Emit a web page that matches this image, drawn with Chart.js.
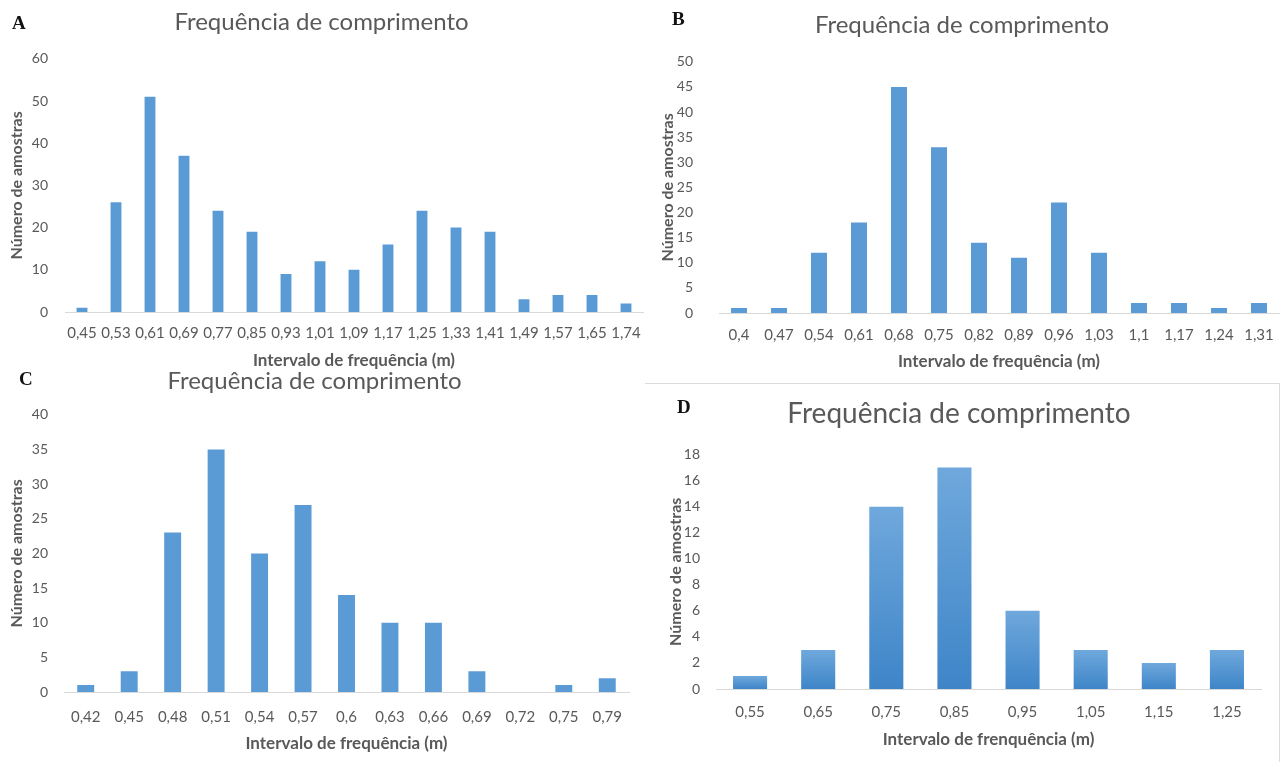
<!DOCTYPE html>
<html>
<head>
<meta charset="utf-8">
<script src="https://cdn.jsdelivr.net/npm/chart.js@4.4.1/dist/chart.umd.min.js"></script>
<style>
  html, body { margin: 0; padding: 0; background: #ffffff; }
  #page { position: relative; width: 1288px; height: 762px; overflow: hidden; background: #fff; }
  canvas { position: absolute; }
  .tag { position: absolute; font-family: "Liberation Serif", "Times New Roman", serif; font-weight: bold; font-size: 19px; color: #111; line-height: 1; }
  #boxD { position: absolute; left: 645px; top: 383px; width: 635px; height: 400px; border-top: 1px solid #dcdcdc; border-right: 1px solid #dcdcdc; box-sizing: border-box; }
</style>
</head>
<body>
<div id="page">
  <div id="boxD"></div>
  <canvas id="chartA" width="655" height="378" style="left:0;top:0"></canvas>
  <canvas id="chartB" width="643" height="378" style="left:645px;top:0"></canvas>
  <canvas id="chartC" width="640" height="402" style="left:0;top:360px"></canvas>
  <canvas id="chartD" width="635" height="379" style="left:645px;top:383px"></canvas>
  <div class="tag" style="left:12px;top:13px">A</div>
  <div class="tag" style="left:672px;top:9px">B</div>
  <div class="tag" style="left:19px;top:369px">C</div>
  <div class="tag" style="left:677px;top:397px">D</div>
</div>
<script>
// Length-class histograms (counts per interval, m)
const catsA = ['0,45','0,53','0,61','0,69','0,77','0,85','0,93','1,01','1,09','1,17','1,25','1,33','1,41','1,49','1,57','1,65','1,74'];
const valsA = [1, 26, 51, 37, 24, 19, 9, 12, 10, 16, 24, 20, 19, 3, 4, 4, 2];

const catsB = ['0,4','0,47','0,54','0,61','0,68','0,75','0,82','0,89','0,96','1,03','1,1','1,17','1,24','1,31'];
const valsB = [1, 1, 12, 18, 45, 33, 14, 11, 22, 12, 2, 2, 1, 2];

const catsC = ['0,42','0,45','0,48','0,51','0,54','0,57','0,6','0,63','0,66','0,69','0,72','0,75','0,79'];
const valsC = [1, 3, 23, 35, 20, 27, 14, 10, 10, 3, 0, 1, 2];

const catsD = ['0,55','0,65','0,75','0,85','0,95','1,05','1,15','1,25'];
const valsD = [1, 3, 14, 17, 6, 3, 2, 3];

const chartTitle = 'Frequência de comprimento';
const yTitle = 'Número de amostras';
const xTitle = 'Intervalo de frequência (m)';
const xTitleD = 'Intervalo de frenquência (m)';

Chart.defaults.font.family = 'Lato, "Open Sans", sans-serif';
Chart.defaults.color = '#595959';

const BLUE = '#5B9BD5';
const GREY = '#595959';

function makeHistogram(id, cfg) {
  return new Chart(document.getElementById(id), {
    type: 'bar',
    data: {
      labels: cfg.labels,
      datasets: [{
        data: cfg.values,
        backgroundColor: cfg.color || BLUE,
        borderWidth: 0,
        barPercentage: cfg.barPct,
        categoryPercentage: 1
      }]
    },
    options: {
      responsive: false,
      devicePixelRatio: 1,
      animation: false,
      events: [],
      layout: { padding: cfg.layout },
      plugins: {
        legend: { display: false },
        tooltip: { enabled: false },
        title: {
          display: true,
          text: chartTitle,
          color: GREY,
          font: { size: cfg.titleSize, weight: 'normal' },
          padding: cfg.titlePad
        }
      },
      scales: {
        x: {
          grid: { display: false, drawTicks: false },
          border: { display: true, color: '#d9d9d9', width: 1 },
          ticks: { autoSkip: false, maxRotation: 0, minRotation: 0, padding: cfg.xTickPad, color: GREY, font: { size: 15 } },
          title: { display: true, text: cfg.xTitle || xTitle, color: GREY, font: { size: 17, weight: 'bold' }, padding: { top: 0, bottom: cfg.xTitlePad } },
          afterFit: (s) => { s.height = cfg.xHeight; }
        },
        y: {
          min: 0,
          max: cfg.yMax,
          grid: { display: false, drawTicks: false },
          border: { display: false },
          ticks: { stepSize: cfg.step, padding: cfg.yTickPad, color: GREY, font: { size: 14 } },
          title: { display: true, text: yTitle, color: GREY, font: { size: 16, weight: 'bold' }, padding: { top: cfg.yTitlePad, bottom: 0 } },
          afterFit: (s) => { s.width = cfg.yWidth; }
        }
      }
    }
  });
}

makeHistogram('chartA', {
  labels: catsA, values: valsA, yMax: 60, step: 10, barPct: 0.32,
  layout: { left: 0, right: 12, top: 0, bottom: 0 },
  titleSize: 24, titlePad: { top: 8, bottom: 22 },
  yWidth: 65, yTickPad: 17, yTitlePad: 7,
  xHeight: 66, xTickPad: 12, xTitlePad: 7
});

makeHistogram('chartB', {
  labels: catsB, values: valsB, yMax: 50, step: 5, barPct: 0.4,
  layout: { left: 0, right: 9, top: 0, bottom: 0 },
  titleSize: 24, titlePad: { top: 11, bottom: 22 },
  yWidth: 74, yTickPad: 26, yTitlePad: 13,
  xHeight: 65, xTickPad: 13, xTitlePad: 6
});

makeHistogram('chartC', {
  labels: catsC, values: valsC, yMax: 40, step: 5, barPct: 0.39,
  layout: { left: 0, right: 11, top: 0, bottom: 0 },
  titleSize: 24, titlePad: { top: 7, bottom: 19 },
  yWidth: 64, yTickPad: 16, yTitlePad: 7,
  xHeight: 70, xTickPad: 16, xTitlePad: 8
});

// Panel D bars use a vertical gradient per bar
function barGradient(ctx) {
  const chart = ctx.chart;
  if (!chart.chartArea || ctx.type !== 'data') return BLUE;
  const y = chart.scales.y;
  const top = y.getPixelForValue(ctx.raw);
  const bottom = y.getPixelForValue(0);
  if (!isFinite(top) || bottom - top < 1) return BLUE;
  const g = chart.ctx.createLinearGradient(0, top, 0, bottom);
  g.addColorStop(0, '#6FA8DC');
  g.addColorStop(1, '#3E85C8');
  return g;
}

makeHistogram('chartD', {
  labels: catsD, values: valsD, yMax: 18, step: 2, barPct: 0.5, color: barGradient,
  xTitle: xTitleD,
  layout: { left: 12, right: 19, top: 0, bottom: 0 },
  titleSize: 28, titlePad: { top: 14, bottom: 24 },
  yWidth: 59, yTickPad: 16, yTitlePad: 9,
  xHeight: 73, xTickPad: 14, xTitlePad: 12
});
</script>
</body>
</html>
